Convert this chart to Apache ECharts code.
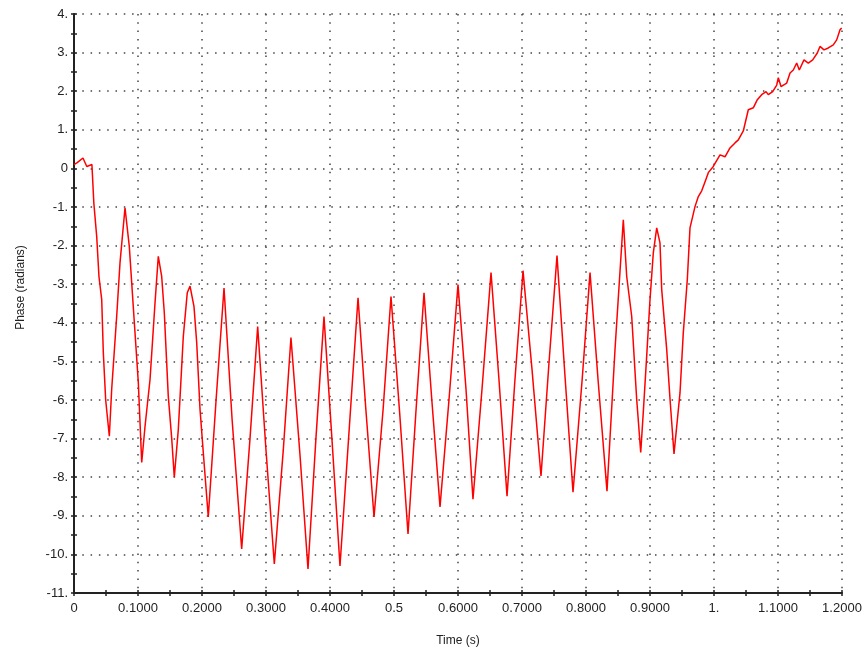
<!DOCTYPE html>
<html>
<head>
<meta charset="utf-8">
<script src="https://cdn.jsdelivr.net/npm/echarts@6/dist/echarts.min.js"></script>
<style>
html,body{margin:0;padding:0;background:#fff;}
#chart{width:865px;height:652px;}
</style>
</head>
<body>
<div id="chart"></div>
<script>
// Time (s) values
var times = [
  0, 0.005, 0.014, 0.02, 0.028,
  0.031, 0.0355, 0.039, 0.0433, 0.0458, 0.0495, 0.0552,
  0.0589, 0.0667, 0.0719, 0.0797,
  0.0864, 0.0953, 0.1005, 0.1058,
  0.111, 0.1188, 0.1266, 0.1317,
  0.137, 0.1411, 0.1473, 0.1527, 0.1567,
  0.163, 0.1708, 0.177, 0.1813,
  0.1875, 0.1917, 0.1969, 0.202, 0.2098,
  0.222, 0.2344,
  0.247, 0.262,
  0.275, 0.287,
  0.300, 0.313,
  0.327, 0.339,
  0.353, 0.3656,
  0.378, 0.3906,
  0.403, 0.4156,
  0.430, 0.4438,
  0.456, 0.4688,
  0.483, 0.4953,
  0.509, 0.5219,
  0.534, 0.5469,
  0.559, 0.5719,
  0.586, 0.600,
  0.6125, 0.6234,
  0.6375, 0.6516,
  0.664, 0.6766,
  0.689, 0.7016,
  0.7156, 0.7297,
  0.742, 0.7547,
  0.767, 0.7797,
  0.794, 0.8063,
  0.8188, 0.8328,
  0.8453, 0.8583,
  0.8636, 0.8714, 0.8792, 0.8855,
  0.8895, 0.8948, 0.900, 0.9052, 0.9105,
  0.9156, 0.9183, 0.9261, 0.9313, 0.9375,
  0.9469, 0.952, 0.9583, 0.9625, 0.9703, 0.9755, 0.9808, 0.9859, 0.9911, 0.9989,
  1.0094, 1.0172, 1.025, 1.0328, 1.038, 1.0458, 1.0536, 1.0614, 1.0677, 1.0745,
  1.0813, 1.0848, 1.0917, 1.098, 1.1005, 1.1047, 1.1136, 1.1188, 1.1239, 1.1292,
  1.1333, 1.1406, 1.1473, 1.1542, 1.1614, 1.1656, 1.1719, 1.1786, 1.1864, 1.1917,
  1.1969, 1.1995
];
// Phase (radians) values
var phases = [
  0.1, 0.15, 0.27, 0.05, 0.1,
  -0.9, -1.77, -2.8, -3.4, -4.77, -6.0, -6.94,
  -5.72, -3.83, -2.44, -1.02,
  -2.02, -4.25, -5.55, -7.62,
  -6.68, -5.47, -3.48, -2.28,
  -2.8, -3.74, -5.9, -7.0, -8.0,
  -6.76, -4.35, -3.22, -3.05,
  -3.58, -4.51, -6.24, -7.36, -9.03,
  -6.0, -3.1,
  -6.5, -9.86,
  -7.0, -4.1,
  -7.3, -10.25,
  -7.3, -4.38,
  -7.4, -10.38,
  -7.0, -3.84,
  -7.0, -10.3,
  -6.76, -3.35,
  -6.24, -9.03,
  -6.24, -3.32,
  -6.37, -9.47,
  -6.37, -3.22,
  -5.98, -8.77,
  -5.98, -3.01,
  -5.72, -8.57,
  -5.72, -2.7,
  -5.47, -8.49,
  -5.47, -2.65,
  -5.2, -7.97,
  -5.08, -2.26,
  -5.34, -8.39,
  -5.47, -2.7,
  -5.47, -8.36,
  -4.7, -1.33,
  -2.8, -3.83, -5.98, -7.36,
  -6.32, -4.87, -3.4, -2.18, -1.54,
  -1.93, -3.14, -4.69, -5.98, -7.4,
  -5.81, -4.26, -2.88, -1.54, -0.99, -0.73, -0.58, -0.35, -0.11, 0.05,
  0.35, 0.3, 0.53, 0.66, 0.74, 0.97, 1.52, 1.57, 1.78, 1.91,
  1.99, 1.91, 1.99, 2.16, 2.35, 2.12, 2.21, 2.47, 2.55, 2.73,
  2.55, 2.81, 2.73, 2.81, 2.99, 3.16, 3.07, 3.12, 3.2, 3.33,
  3.59, 3.64
];
// Tick labels as shown
var xTickLabels = ['0','0.1000','0.2000','0.3000','0.4000','0.5','0.6000','0.7000','0.8000','0.9000','1.','1.1000','1.2000'];
var yTickLabels = {'4':'4.','3':'3.','2':'2.','1':'1.','0':'0','-1':'-1.','-2':'-2.','-3':'-3.','-4':'-4.','-5':'-5.','-6':'-6.','-7':'-7.','-8':'-8.','-9':'-9.','-10':'-10.','-11':'-11.'};
var xName = 'Time (s)';
var yName = 'Phase (radians)';

var seriesData = times.map(function (t, i) { return [t, phases[i]]; });

var FONT = 'Liberation Sans, Arial, sans-serif';
var gridDash = {color: '#444', width: 1.5, type: [1.5, 6.8]};

var chart = echarts.init(document.getElementById('chart'), null, {renderer: 'canvas'});
chart.setOption({
  backgroundColor: '#ffffff',
  animation: false,
  grid: {left: 74, right: 23, top: 14, bottom: 58, containLabel: false},
  xAxis: [{
    type: 'value', min: 0, max: 1.2, interval: 0.1,
    name: xName, nameLocation: 'middle', nameGap: 42,
    nameTextStyle: {fontFamily: FONT, fontSize: 12, color: '#222'},
    axisLine: {show: true, onZero: false, lineStyle: {color: '#222', width: 2}},
    axisTick: {show: true, inside: false, length: 3, lineStyle: {color: '#222', width: 1.5}},
    minorTick: {show: true, splitNumber: 2, length: 3, lineStyle: {color: '#222', width: 1.5}},
    axisLabel: {
      show: true, margin: 9, fontFamily: FONT, fontSize: 13, color: '#222',
      showMinLabel: true, showMaxLabel: true,
      formatter: function (v) { return xTickLabels[Math.round(v * 10)]; }
    },
    splitLine: {show: true, lineStyle: gridDash}
  }, {
    type: 'value', min: 0, max: 1.2, interval: 0.1, position: 'bottom',
    axisLine: {show: false, onZero: false},
    axisTick: {show: true, inside: true, length: 3, lineStyle: {color: '#222', width: 1.5}},
    minorTick: {show: true, splitNumber: 2, length: 3, lineStyle: {color: '#222', width: 1.5}},
    axisLabel: {show: false},
    splitLine: {show: false}
  }],
  yAxis: [{
    type: 'value', min: -11, max: 4, interval: 1,
    name: yName, nameLocation: 'middle', nameGap: 47, nameRotate: 90,
    nameTextStyle: {fontFamily: FONT, fontSize: 12, color: '#222', padding: [0, 0, 0, 32]},
    axisLine: {show: true, onZero: false, lineStyle: {color: '#222', width: 2}},
    axisTick: {show: true, inside: false, length: 3, lineStyle: {color: '#222', width: 1.5}},
    minorTick: {show: true, splitNumber: 2, length: 3, lineStyle: {color: '#222', width: 1.5}},
    axisLabel: {
      show: true, margin: 6, fontFamily: FONT, fontSize: 13, color: '#222',
      formatter: function (v) { return yTickLabels[String(Math.round(v))]; }
    },
    splitLine: {show: true, lineStyle: gridDash}
  }, {
    type: 'value', min: -11, max: 4, interval: 1, position: 'left',
    axisLine: {show: false, onZero: false},
    axisTick: {show: true, inside: true, length: 3, lineStyle: {color: '#222', width: 1.5}},
    minorTick: {show: true, splitNumber: 2, length: 3, lineStyle: {color: '#222', width: 1.5}},
    axisLabel: {show: false},
    splitLine: {show: false}
  }],
  series: [{
    type: 'line',
    xAxisIndex: 0, yAxisIndex: 0,
    data: seriesData,
    showSymbol: false,
    symbol: 'none',
    lineStyle: {color: '#ff0000', width: 1.5},
    z: 5
  }]
});
</script>
</body>
</html>
